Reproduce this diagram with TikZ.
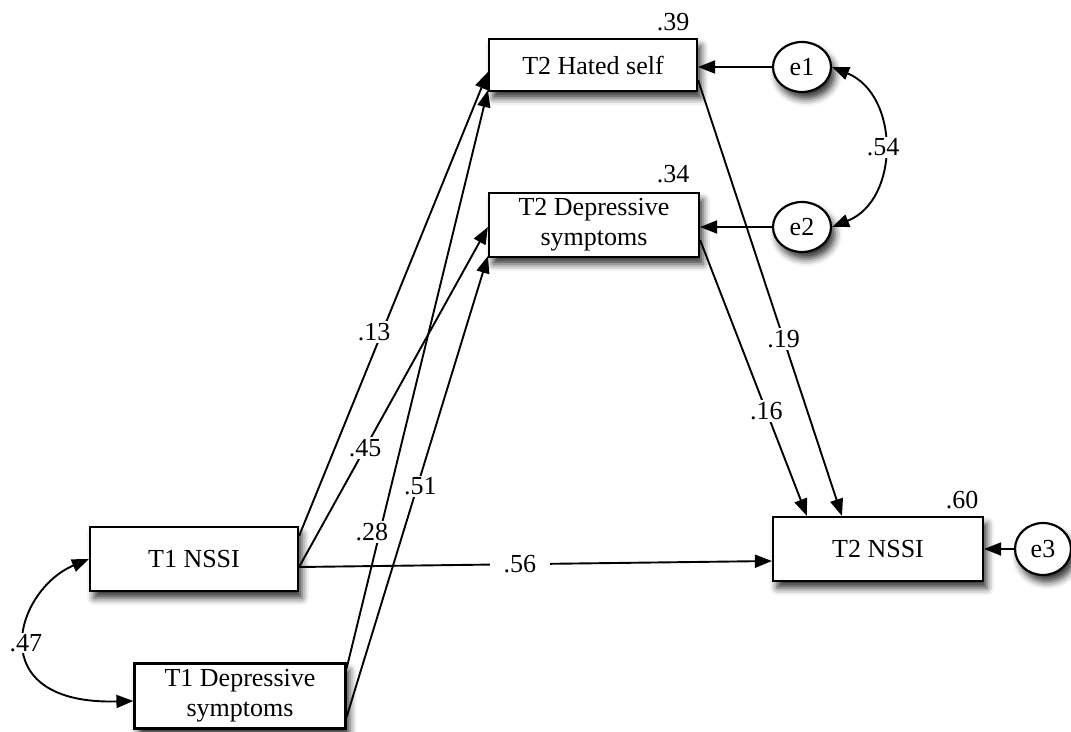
\documentclass[tikz,border=0pt]{standalone}
\usepackage{fontspec}
\setmainfont{Liberation Serif}
\usetikzlibrary{arrows.meta,calc,shapes.geometric,shadows.blur}

\begin{document}
\begin{tikzpicture}[x=1pt,y=-1pt,
  font=\fontsize{26}{30}\selectfont,
  soft/.style={blur shadow={shadow xshift=4pt,shadow yshift=-7pt,shadow blur radius=7pt,shadow opacity=80}},
  var/.style={draw,line width=2.2pt,fill=white,inner sep=0pt,align=center,soft},
  err/.style={ellipse,draw,line width=2.2pt,fill=white,inner sep=0pt,soft},
  link/.style={line width=1.9pt,-{Triangle[length=17pt,width=13pt]}},
  twoway/.style={line width=1.9pt,{Triangle[length=17pt,width=13pt]}-{Triangle[length=17pt,width=13pt]}},
  coef/.style={fill=white,inner sep=2pt}
]
\useasboundingbox (0,0) rectangle (1071,731);

% observed variables
\node[var,minimum width=208pt,minimum height=52pt] (hs) at (593,65) {T2 Hated self};
\node[var,minimum width=210pt,minimum height=64pt] (dep2) at (594,225) {T2 Depressive\\symptoms};
\node[var,minimum width=208pt,minimum height=64pt] (t1n) at (194,559) {T1 NSSI};
\node[var,minimum width=211pt,minimum height=65pt] (t1d) at (240,696) {T1 Depressive\\symptoms};
\node[var,minimum width=210pt,minimum height=64pt] (t2n) at (878,549) {T2 NSSI};

% error terms
\node[err,minimum width=58pt,minimum height=50pt] (e1) at (802,67) {e1};
\node[err,minimum width=58pt,minimum height=50pt] (e2) at (802,227) {e2};
\node[err,minimum width=56pt,minimum height=52pt] (e3) at (1043,549) {e3};

% explained variance
\node (r1) at (673,22) {.39};
\node (r2) at (673,174) {.34};
\node (r3) at (962,500) {.60};

% paths to the T2 mediators
\draw[link] ($(t1n.north east)+(0,10)$) -- node[coef,pos=0.44,xshift=-8pt]{.13} ($(hs.west)+(0,7)$);
\draw[link] ($(t1d.north east)+(0,6)$) -- node[coef,pos=0.236,xshift=-8pt]{.28} ($(hs.south west)+(0,-2)$);
\draw[link] ($(t1n.east)+(0,8)$) -- node[coef,pos=0.35]{.45} ($(dep2.west)+(0,2)$);
\draw[link] ($(t1d.east)+(0,21)$) -- node[coef,pos=0.5,xshift=3pt]{.51} ($(dep2.south west)+(0,-2)$);

% paths to T2 NSSI
\draw[link] ($(hs.east)+(0,15)$) -- node[coef,pos=0.594]{.19} ($(t2n.north west)+(70,0)$);
\draw[link] ($(dep2.east)+(0,15)$) -- node[coef,pos=0.62]{.16} ($(t2n.north west)+(35,0)$);
\draw[link] ($(t1n.east)+(0,8)$) -- node[coef,pos=0.467,inner xsep=14pt]{.56} ($(t2n.west)+(0,12)$);

% error terms
\draw[link] (e1.west) -- (e1.west -| hs.east);
\draw[link] (e2.west) -- (e2.west -| dep2.east);
\draw[link] (e3.west) -- (e3.west -| t2n.east);

% covariances
\draw[twoway] (e1.east) .. controls (900,95) and (900,200) .. node[coef,pos=0.5]{.54} (e2.east);
\draw[twoway] (t1n.west) .. controls (15,590) and (-20,705) .. node[coef,pos=0.5,inner sep=1pt]{.47} ($(t1d.west)+(0,5)$);
\end{tikzpicture}
\end{document}
